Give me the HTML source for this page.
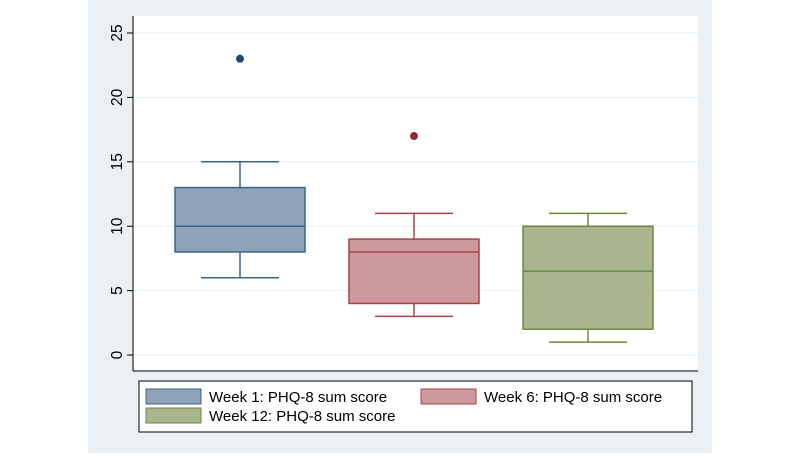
<!DOCTYPE html>
<html><head><meta charset="utf-8"><style>
body{margin:0;background:#fff;width:800px;height:455px;overflow:hidden;font-family:"Liberation Sans",sans-serif}
</style></head><body>
<svg width="800" height="455">
<rect x="88" y="0" width="624" height="453" fill="#eaf0f3"/>
<rect x="133" y="16" width="565" height="355" fill="#fff"/>
<g id="grid"></g>
<line x1="133" y1="16" x2="133" y2="371" stroke="#000" stroke-width="1"/>
<line x1="133" y1="371" x2="698" y2="371" stroke="#000" stroke-width="1"/>
<g id="ticks"></g>
<g id="boxes"></g>
<g>
<rect x="139" y="381" width="553" height="51" fill="#fff" stroke="#000" stroke-width="1"/>
<g id="legend"></g>
</g>
</svg>
<script>
const categories=["Week 1: PHQ-8 sum score","Week 6: PHQ-8 sum score","Week 12: PHQ-8 sum score"];
const whiskerLow=[6,3,1];
const q1=[8,4,2];
const medians=[10,8,6.5];
const q3=[13,9,10];
const whiskerHigh=[15,11,11];
const outliers=[[23],[17],[]];
const yTicks=[0,5,10,15,20,25];
const fills=["#8ea3b9","#cc9a9c","#a9b58f"];
const strokes=["#3d6388","#a84448","#6c8a3e"];
const dotColors=["#1b4a78","#8e2b2e","#5d7a30"];
const ns="http://www.w3.org/2000/svg";
function y(v){return 355-v*(355-33)/25;}
function xc(i){return 240+i*174;}
function mk(tag,attrs,parent){const e=document.createElementNS(ns,tag);for(const k in attrs)e.setAttribute(k,attrs[k]);parent.appendChild(e);return e;}
const grid=document.getElementById('grid'),ticks=document.getElementById('ticks'),boxes=document.getElementById('boxes'),legend=document.getElementById('legend');
yTicks.forEach(t=>{
 const g=mk('line',{x1:133,x2:698,y1:y(t),y2:y(t),stroke:'#e6eef2','stroke-width':1},grid);
 
 
 const tk=mk('line',{x1:127,x2:133,y1:y(t),y2:y(t),stroke:'#000'},ticks);
 
 
 const tx=mk('text',{x:0,y:0,transform:`translate(122,${y(t)}) rotate(-90)`,'text-anchor':'middle','font-size':15.5,fill:'#000'},ticks);
 tx.textContent=t;
 
 
});
categories.forEach((c,i)=>{
 const cx=xc(i),hw=65,ww=39;
 const g=mk('g',{},boxes);
 
 
 const s=strokes[i];
 mk('line',{x1:cx,x2:cx,y1:y(whiskerHigh[i]),y2:y(q3[i]),stroke:s,'stroke-width':1.5},g);
 mk('line',{x1:cx,x2:cx,y1:y(q1[i]),y2:y(whiskerLow[i]),stroke:s,'stroke-width':1.5},g);
 mk('line',{x1:cx-ww,x2:cx+ww,y1:y(whiskerHigh[i]),y2:y(whiskerHigh[i]),stroke:s,'stroke-width':1.5},g);
 mk('line',{x1:cx-ww,x2:cx+ww,y1:y(whiskerLow[i]),y2:y(whiskerLow[i]),stroke:s,'stroke-width':1.5},g);
 mk('rect',{x:cx-hw,y:y(q3[i]),width:2*hw,height:y(q1[i])-y(q3[i]),fill:fills[i],stroke:s,'stroke-width':1.5},g);
 mk('line',{x1:cx-hw,x2:cx+hw,y1:y(medians[i]),y2:y(medians[i]),stroke:s,'stroke-width':1.5},g);
 outliers[i].forEach(o=>{
  const d=mk('circle',{cx:cx,cy:y(o),r:4,fill:dotColors[i]},g);
  
  
 });
 const lx=[146,421,146][i],ly=[389,389,408][i];
 const le=mk('g',{},legend);
 
 
 mk('rect',{x:lx,y:ly,width:55,height:15,fill:fills[i],stroke:s,'stroke-width':1},le);
 const t=mk('text',{x:lx+63,y:ly+13,'font-size':15,fill:'#000'},le);
 t.textContent=c;
});
</script>
</body></html>
